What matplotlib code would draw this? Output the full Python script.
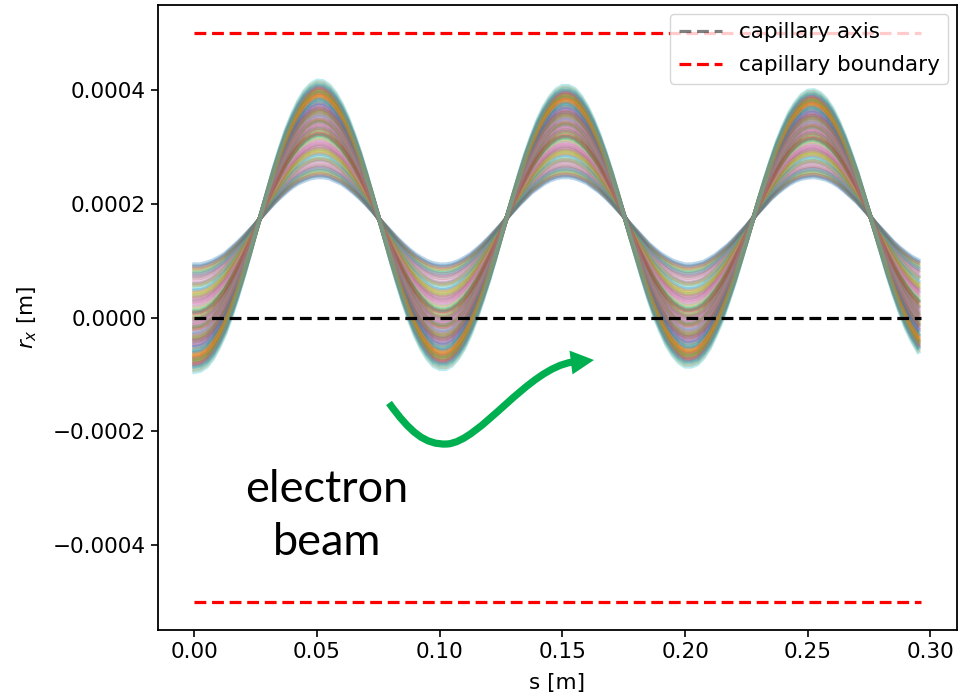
import numpy as np
import matplotlib.pyplot as plt
from matplotlib.path import Path
from matplotlib.patches import PathPatch, Polygon

# sample positions along the capillary [m]
s = [0.0025 * k for k in range(119)]

# outermost (largest amplitude) trajectory, in micrometres
r_big = [-87, -85, -78, -65, -46, -23, 6, 38, 73, 110,
         149, 187, 225, 262, 296, 327, 353, 375, 392, 403,
         409, 408, 401, 388, 370, 347, 319, 288, 253, 216,
         178, 140, 102, 66, 32, 1, -26, -48, -65, -77,
         -82, -82, -76, -64, -47, -24, 3, 34, 67, 103,
         141, 179, 216, 252, 286, 316, 343, 365, 382, 394,
         400, 400, 395, 383, 366, 344, 318, 288, 255, 219,
         182, 144, 108, 72, 38, 7, -19, -42, -59, -71,
         -78, -78, -74, -63, -47, -25, 0, 30, 62, 97,
         133, 170, 207, 242, 275, 306, 332, 355, 372, 385,
         392, 393, 388, 378, 362, 341, 316, 287, 256, 221,
         185, 149, 113, 77, 44, 14, -13, -35, -53]

# innermost (smallest amplitude) trajectory, micrometres
r_small = [90, 90, 93, 97, 103, 110, 120, 130, 141, 153,
           165, 178, 190, 202, 213, 223, 232, 239, 244, 248,
           250, 250, 248, 243, 238, 230, 221, 211, 200, 188,
           175, 163, 151, 139, 128, 118, 109, 102, 96, 92,
           90, 90, 92, 96, 102, 109, 118, 128, 139, 151,
           163, 176, 188, 200, 211, 222, 230, 238, 244, 248,
           250, 250, 248, 244, 239, 231, 223, 213, 202, 190,
           178, 165, 153, 141, 129, 119, 110, 103, 97, 93,
           90, 90, 92, 95, 101, 108, 117, 126, 137, 149,
           161, 174, 186, 198, 210, 220, 229, 237, 243, 247,
           249, 250, 248, 245, 240, 233, 224, 214, 204, 192,
           180, 167, 155, 143, 131, 121, 112, 104, 98]

# position of each particle between the inner (0) and outer (1) trajectory
weights = [0.00, 0.03, 0.05, 0.08, 0.10, 0.12, 0.15, 0.17, 0.19, 0.22,
           0.24, 0.26, 0.29, 0.31, 0.33, 0.35, 0.38, 0.40, 0.42, 0.44,
           0.47, 0.49, 0.51, 0.53, 0.55, 0.57, 0.59, 0.61, 0.63, 0.65,
           0.67, 0.69, 0.71, 0.73, 0.75, 0.77, 0.79, 0.81, 0.83, 0.85,
           0.86, 0.88, 0.90, 0.91, 0.93, 0.95, 0.96, 0.98, 0.99, 1.00,
           -0.02, 1.03, 0.45, 0.62, 0.78, 0.92, 0.36, 0.18, 0.70, 1.05,
           0.84, 0.89, 0.94, 0.97, 0.68, 0.74, 0.58, 0.52, 0.27, 0.07,
           0.80, 0.87, 0.60, 0.46, 0.99, 0.01, 0.64, 0.72, 0.93, 1.01]

s_end = 0.296
boundary = 0.0005

s = np.array(s)
big = np.array(r_big) * 1e-6
small = np.array(r_small) * 1e-6

fig = plt.figure(figsize=(9.64, 7.0), dpi=100)
ax = fig.add_axes([158 / 964, 70 / 700, 799 / 964, 625 / 700])

colors = plt.rcParams['axes.prop_cycle'].by_key()['color']
for i, w in enumerate(weights):
    ax.plot(s, small + w * (big - small), color=colors[i % 10], alpha=0.3, lw=3)

dash = (0, (3.7, 1.8))
ax.plot([0, s_end], [0, 0], color='k', ls=dash, lw=2.3, label='capillary axis')
ax.plot([0, s_end], [boundary, boundary], color='red', ls=dash, lw=2.3,
        label='capillary boundary')
ax.plot([0, s_end], [-boundary, -boundary], color='red', ls=dash, lw=2.3)

ax.set_xlabel('s [m]', fontsize=15.5, labelpad=8)
ax.set_ylabel('$r_x$ [m]', fontsize=15.5, labelpad=10)
ax.set_xticks([0.0, 0.05, 0.10, 0.15, 0.20, 0.25, 0.30])
ax.set_yticks([-0.0004, -0.0002, 0.0, 0.0002, 0.0004])
ax.tick_params(labelsize=15.5, length=5, width=1.2)
for sp in ax.spines.values():
    sp.set_linewidth(1.3)

leg = ax.legend(loc='upper right', fontsize=15.5, borderaxespad=0.4,
                labelspacing=0.6)
leg.legend_handles[0].set_alpha(0.5)

# annotation added on top of the plot
fig.text(327 / 964, 1 - 516 / 700, 'electron\nbeam', ha='center', va='center',
         fontsize=32.5, family='Lato', linespacing=1.35)

green = '#00B050'
pts = [(389, 403), (410, 432), (425, 445), (447, 444),
       (480, 442), (528, 368), (573, 362)]
verts = [(x / 964, 1 - y / 700) for x, y in pts]
codes = [Path.MOVETO] + [Path.CURVE4] * 6
fig.patches.append(PathPatch(Path(verts, codes), transform=fig.transFigure,
                             fill=False, edgecolor=green, lw=5.2, capstyle='butt'))
head = [(594, 360), (572.5, 374.4), (569.5, 350.6)]
fig.patches.append(Polygon([(x / 964, 1 - y / 700) for x, y in head],
                           closed=True, transform=fig.transFigure,
                           facecolor=green, edgecolor='none'))

fig.savefig('out.png', dpi=100)
